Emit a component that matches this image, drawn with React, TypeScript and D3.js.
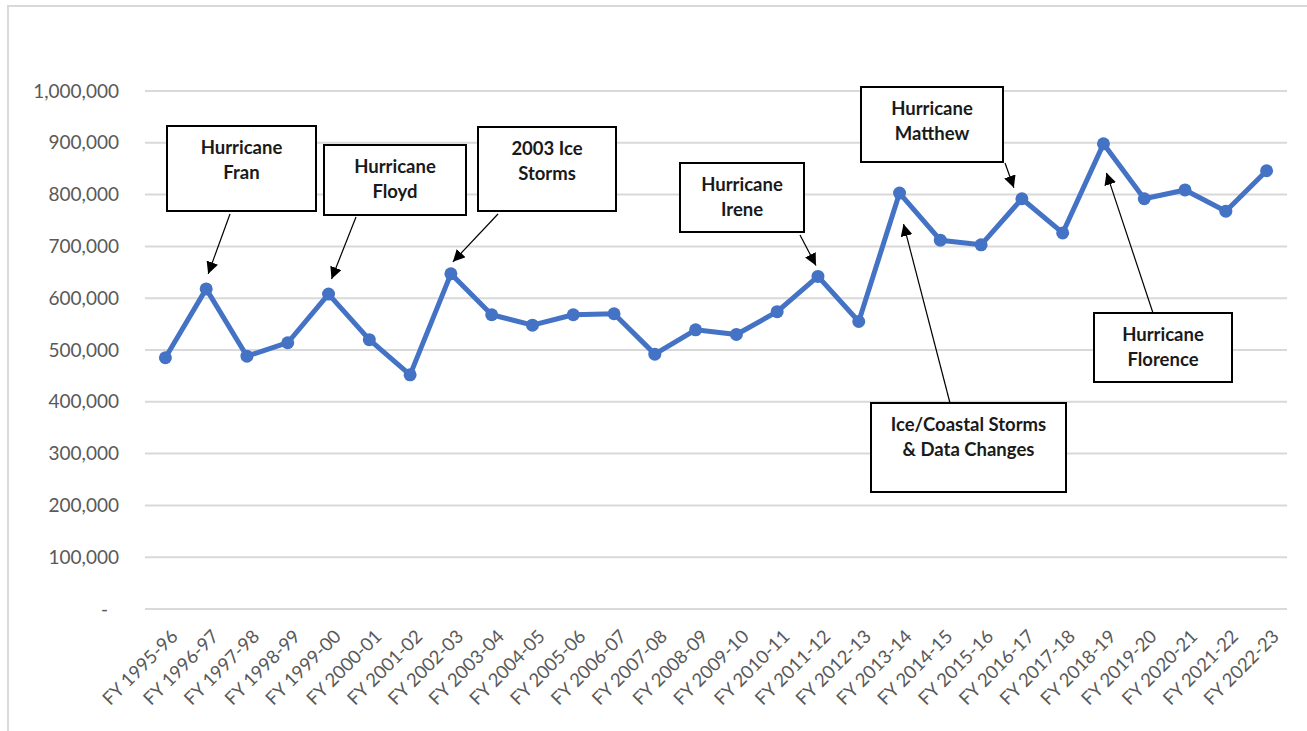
import React from "react";
import * as d3 from "d3";

const categories = [
  "FY 1995-96", "FY 1996-97", "FY 1997-98", "FY 1998-99", "FY 1999-00", "FY 2000-01",
  "FY 2001-02", "FY 2002-03", "FY 2003-04", "FY 2004-05", "FY 2005-06", "FY 2006-07",
  "FY 2007-08", "FY 2008-09", "FY 2009-10", "FY 2010-11", "FY 2011-12", "FY 2012-13",
  "FY 2013-14", "FY 2014-15", "FY 2015-16", "FY 2016-17", "FY 2017-18", "FY 2018-19",
  "FY 2019-20", "FY 2020-21", "FY 2021-22", "FY 2022-23",
];

const values = [
  485000, 618000, 488000, 514000, 608000, 520000, 452000, 647000, 568000, 548000,
  568000, 570000, 492000, 539000, 530000, 574000, 642000, 555000, 803000, 712000,
  703000, 792000, 726000, 898000, 792000, 809000, 768000, 846000,
];

const yTicks = [0, 100000, 200000, 300000, 400000, 500000, 600000, 700000, 800000, 900000, 1000000];

const annotationLabels = [
  ["Hurricane", "Fran"],
  ["Hurricane", "Floyd"],
  ["2003 Ice", "Storms"],
  ["Hurricane", "Irene"],
  ["Hurricane", "Matthew"],
  ["Ice/Coastal Storms", "& Data Changes"],
  ["Hurricane", "Florence"],
];
const annotationIndex = [1, 4, 7, 16, 21, 18, 23];

// layout for the callouts (pixels)
const annotationLayout = [
  { box: [167, 126, 149, 85], tail: [230, 214], tip: [2, -15] },
  { box: [324, 145, 142, 70], tail: [356, 217], tip: [3, -15] },
  { box: [478, 127, 138, 84], tail: [498, 214], tip: [2, -12] },
  { box: [680, 163, 124, 69], tail: [800, 235], tip: [-2, -11] },
  { box: [861, 87, 142, 75], tail: [1005, 163], tip: [-8, -11] },
  { box: [871, 403, 195, 89], tail: [950, 403], tip: [4, 31] },
  { box: [1094, 313, 138, 69], tail: [1153, 313], tip: [3, 29] },
];

const W = 1307;
const H = 731;
const plotLeft = 145;
const plotRight = 1287;
const plotTop = 91;
const plotBottom = 609;

export default function App() {
  const x = d3.scaleBand<string>().domain(categories).range([plotLeft, plotRight]).padding(0);
  const y = d3.scaleLinear().domain([0, 1000000]).range([plotBottom, plotTop]);
  const cx = (i: number) => (x(categories[i]) as number) + x.bandwidth() / 2;
  const line = d3
    .line<number>()
    .x((_, i) => cx(i))
    .y((d) => y(d));
  const fmt = d3.format(",");
  const font = "Lato, 'Open Sans', sans-serif";

  return (
    <svg
      width={W}
      height={H}
      style={{ position: "absolute", left: 0, top: 0, background: "#fff" }}
    >
      <defs>
        <marker
          id="arrow"
          viewBox="0 0 10 10"
          refX="10"
          refY="5"
          markerWidth="12"
          markerHeight="12"
          markerUnits="userSpaceOnUse"
          orient="auto"
        >
          <path d="M0,0 L10,5 L0,10 z" fill="#000" />
        </marker>
      </defs>
      <rect x={8} y={6} width={W + 10} height={H + 10} fill="#fff" stroke="#d9d9d9" strokeWidth={2} />
      {yTicks.map((t) => (
        <g key={t}>
          <line x1={plotLeft} x2={plotRight} y1={y(t)} y2={y(t)} stroke="#d9d9d9" strokeWidth={2} />
          <text
            x={t === 0 ? 108 : 119}
            y={y(t)}
            dy="0.35em"
            textAnchor="end"
            fontFamily={font}
            fontSize={19}
            fill="#595959"
          >
            {t === 0 ? "-" : fmt(t)}
          </text>
        </g>
      ))}
      {categories.map((c, i) => (
        <text
          key={c}
          transform={`translate(${cx(i) + 9},${plotBottom + 24}) rotate(-45)`}
          textAnchor="end"
          dy="0.35em"
          fontFamily={font}
          fontSize={18.5}
          fill="#595959"
        >
          {c}
        </text>
      ))}
      <path d={line(values) || ""} fill="none" stroke="#4472C4" strokeWidth={5} strokeLinejoin="round" />
      {values.map((v, i) => (
        <circle key={i} cx={cx(i)} cy={y(v)} r={6.5} fill="#4472C4" />
      ))}
      {annotationLabels.map((lines, k) => {
        const L = annotationLayout[k];
        const [bx, by, bw, bh] = L.box;
        const idx = annotationIndex[k];
        const tipX = cx(idx) + L.tip[0];
        const tipY = y(values[idx]) + L.tip[1];
        return (
          <g key={k}>
            <line
              x1={L.tail[0]}
              y1={L.tail[1]}
              x2={tipX}
              y2={tipY}
              stroke="#000"
              strokeWidth={1.2}
              markerEnd="url(#arrow)"
            />
            <rect x={bx} y={by} width={bw} height={bh} fill="#fff" stroke="#000" strokeWidth={2} />
            {lines.map((t, j) => (
              <text
                key={j}
                x={bx + bw / 2}
                y={by + 22 + j * 25}
                dy="0.35em"
                textAnchor="middle"
                fontFamily={font}
                fontWeight="bold"
                fontSize={18.5}
                fill="#1a1a1a"
              >
                {t}
              </text>
            ))}
          </g>
        );
      })}
    </svg>
  );
}
